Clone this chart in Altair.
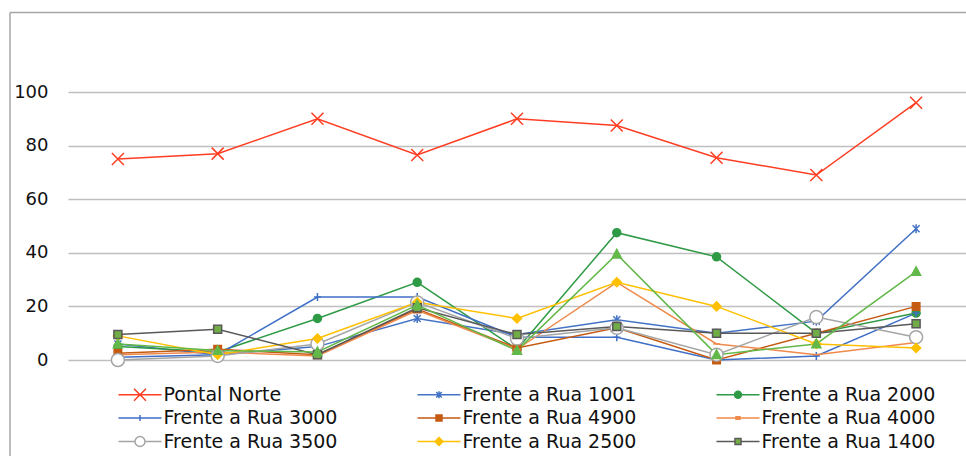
import altair as alt
import pandas as pd

# Campaign index along the horizontal axis (no labels drawn)
coletas = [1, 2, 3, 4, 5, 6, 7, 8, 9]

# Series values (%)
pontal_norte = [75, 77, 90, 76.5, 90, 87.5, 75.5, 69, 96]
rua_1001 = [6, 2, 5, 15.5, 9.5, 15, 10, 14.5, 49]
rua_2000 = [5, 3, 15.5, 29, 4, 47.5, 38.5, 10, 17.5]
rua_3000 = [1, 2, 23.5, 23.5, 8.5, 8.5, 0, 1.5, 17.5]
rua_4900 = [2.5, 4, 2, 19, 4.5, 12, 0, 10, 20]
rua_4000 = [2, 3, 1.5, 18.5, 4, 29, 6, 2, 6.5]
rua_3500 = [0, 1.5, 6, 21.5, 8, 12, 2, 16, 8.5]
rua_2500 = [9, 2, 8, 21.5, 15.5, 29, 20, 6, 4.5]
rua_1400 = [9.5, 11.5, 2, 19.5, 9.5, 12.5, 10, 10, 13.5]
serie_10 = [6, 3.5, 3, 20.5, 3.5, 39.5, 2, 6, 33]

nomes_legenda = [
    "Pontal Norte", "Frente a Rua 1001", "Frente a Rua 2000",
    "Frente a Rua 3000", "Frente a Rua 4900", "Frente a Rua 4000",
    "Frente a Rua 3500", "Frente a Rua 2500", "Frente a Rua 1400",
]
nomes = nomes_legenda + ["Série 10"]
valores = [pontal_norte, rua_1001, rua_2000, rua_3000, rua_4900,
           rua_4000, rua_3500, rua_2500, rua_1400, serie_10]

cor_linha = ["#ff3d22", "#4472c4", "#2f9a45", "#3f6fc6", "#c55a11",
             "#f08a4b", "#a5a5a5", "#ffc000", "#595959", "#63b84a"]
cor_marcador = ["#ff3d22", "#4472c4", "#2f9a45", "#3f6fc6", "#c55a11",
                "#f08a4b", "#ffffff", "#ffc000", "#70ad47", "#63b84a"]

# Marker outlines for the plotted points (unit coordinates)
forma_ponto = [
    "M-1.2,-1.2L1.2,1.2M-1.2,1.2L1.2,-1.2",
    "M-0.7,-0.7L0.7,0.7M-0.7,0.7L0.7,-0.7M0,-0.9V0.9",
    "M0.8,0A0.8,0.8 0 1,1 -0.8,0A0.8,0.8 0 1,1 0.8,0Z",
    "M-0.7,0H0.7M0,-0.8V0.8",
    "M-0.75,-0.75H0.75V0.75H-0.75Z",
    "M-0.7,0H0.7",
    "M1.3,0A1.3,1.3 0 1,1 -1.3,0A1.3,1.3 0 1,1 1.3,0Z",
    "M0,-0.9L0.9,0L0,0.9L-0.9,0Z",
    "M-0.8,-0.8H0.8V0.8H-0.8Z",
    "M0,-0.95L0.9,0.75H-0.9Z",
]

# Legend keys: line segment plus marker
L = 5.375
forma_legenda = [
    f"M-{L},0H{L}M-1.5,-1.5L1.5,1.5M-1.5,1.5L1.5,-1.5",
    f"M-{L},0H{L}M-0.7,-0.7L0.7,0.7M-0.7,0.7L0.7,-0.7M0,-0.9V0.9",
    f"M-{L},0H-0.875M0.875,0H{L}M0.875,0A0.875,0.875 0 1,1 -0.875,0A0.875,0.875 0 1,1 0.875,0Z",
    f"M-{L},0H{L}M0,-0.75V0.75",
    f"M-{L},0H-0.75M0.75,0H{L}M-0.75,-0.75H0.75V0.75H-0.75Z",
    f"M-{L},0H{L}M-0.5,-0.3H0.5V0.3H-0.5Z",
    f"M-{L},0H-1.25M1.25,0H{L}M1.25,0A1.25,1.25 0 1,1 -1.25,0A1.25,1.25 0 1,1 1.25,0Z",
    f"M-{L},0H-1M1,0H{L}M0,-1L1,0L0,1L-1,0Z",
    f"M-{L},0H-0.75M0.75,0H{L}M-0.75,-0.75H0.75V0.75H-0.75Z",
]

linhas_df = []
for nome, serie in zip(nomes, valores):
    for c, v in zip(coletas, serie):
        linhas_df.append({"serie": nome, "coleta": c, "valor": v})
df = pd.DataFrame(linhas_df)

FONTE = "DejaVu Sans"

x_enc = alt.X("coleta:O", axis=None, scale=alt.Scale(padding=0.5))
y_enc = alt.Y(
    "valor:Q",
    scale=alt.Scale(domain=[0, 100], nice=False, zero=True),
    axis=alt.Axis(
        values=[0, 20, 40, 60, 80, 100], title=None, domain=False, ticks=False,
        labelFont=FONTE, labelFontSize=18, labelColor="#111111", labelPadding=20,
        gridColor="#bfbfbf", gridWidth=1.5,
    ),
)

linhas = alt.Chart(df).mark_line(strokeWidth=1.5).encode(
    x=x_enc, y=y_enc,
    color=alt.Color("serie:N", scale=alt.Scale(domain=nomes, range=cor_linha), legend=None),
)

pontos = alt.Chart(df).mark_point(filled=True, opacity=1, size=100, strokeWidth=1.5).encode(
    x=x_enc, y=y_enc,
    color=alt.Color("serie:N", scale=alt.Scale(domain=nomes, range=cor_marcador), legend=None),
    stroke=alt.Stroke("serie:N", scale=alt.Scale(domain=nomes, range=cor_linha), legend=None),
    shape=alt.Shape("serie:N", scale=alt.Scale(domain=nomes, range=forma_ponto), legend=None),
)

leg = alt.Legend(
    title=None, orient="none", legendX=62.5, legendY=293, columns=3,
    direction="horizontal",
    symbolSize=64, symbolStrokeWidth=1.5, symbolOpacity=1,
    labelFont=FONTE, labelFontSize=19, labelColor="#111111", labelOffset=14,
    labelLimit=400, columnPadding=77, rowPadding=3.5,
)

legenda = alt.Chart(df).transform_filter("false").mark_point(
    filled=True, opacity=1, strokeWidth=1.5
).encode(
    color=alt.Color("serie:N", scale=alt.Scale(domain=nomes_legenda, range=cor_marcador[:9]), legend=leg),
    stroke=alt.Stroke("serie:N", scale=alt.Scale(domain=nomes_legenda, range=cor_linha[:9]), legend=leg),
    shape=alt.Shape("serie:N", scale=alt.Scale(domain=nomes_legenda, range=forma_legenda), legend=leg),
)

um = alt.Data(values=[{}])
moldura_v = alt.Chart(um).mark_rule(color="#a6a6a6", strokeWidth=1.5).encode(
    x=alt.value(-58), y=alt.value(-79.5), y2=alt.value(370)
)
moldura_h = alt.Chart(um).mark_rule(color="#a6a6a6", strokeWidth=1.5).encode(
    x=alt.value(-58), x2=alt.value(900), y=alt.value(-79.5)
)

chart = (
    alt.layer(moldura_v, moldura_h, linhas, pontos, legenda)
    .resolve_scale(color="independent", stroke="independent", shape="independent")
    .properties(
        width=898, height=268,
        autosize=alt.AutoSizeParams(type="none"),
        padding={"left": 68, "top": 92, "right": 0, "bottom": 96},
        background="white",
    )
    .configure_view(stroke=None)
)

chart.save("out.html", embed_options={"renderer": "svg", "actions": False})
